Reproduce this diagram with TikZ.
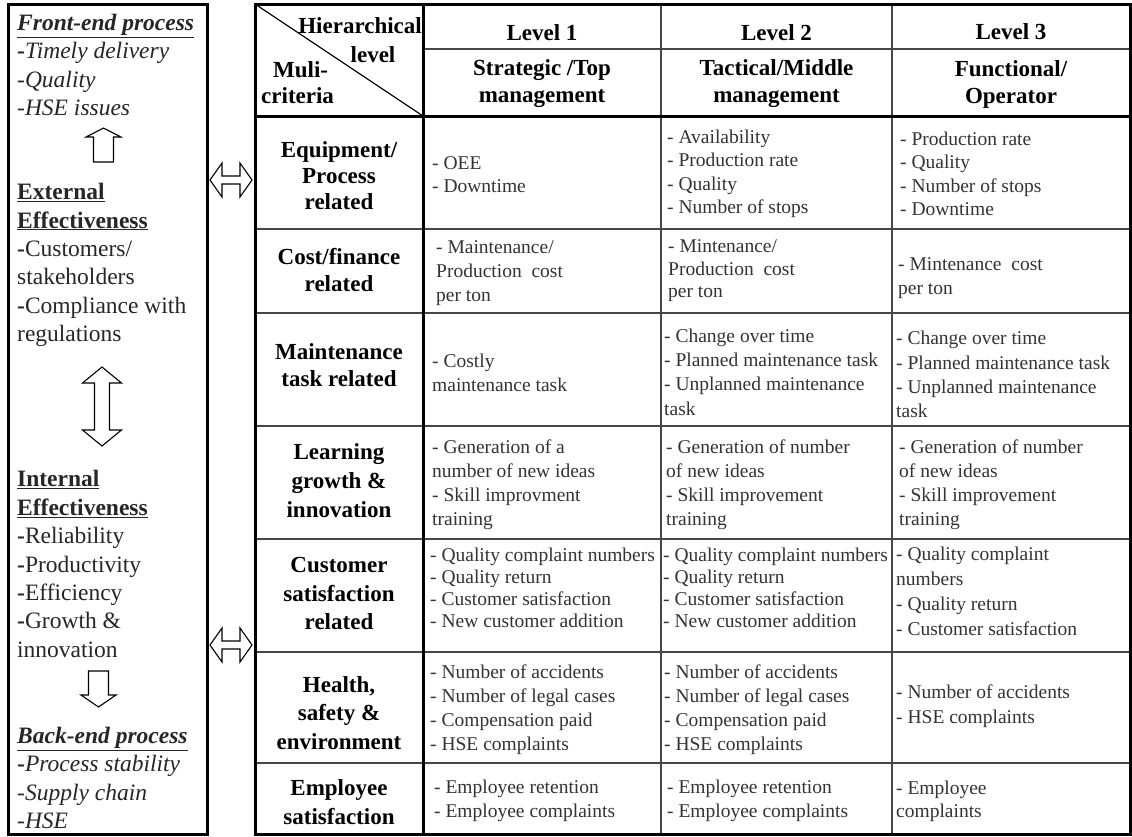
\documentclass[tikz,border=0pt]{standalone}
\usepackage{fontspec}
\setmainfont{Liberation Serif}
\begin{document}
\begin{tikzpicture}[x=1pt,y=-1pt,
  frame/.style={line width=3pt, draw=black},
  rule/.style={line width=1.8pt, draw=black!72},
  body/.style={font=\fontsize{19.5}{#1}\selectfont, text=black!80, align=left, anchor=west, inner sep=0pt},
  body/.default=23.5,
  head/.style={font=\bfseries\fontsize{23}{27}\selectfont, align=center, inner sep=0pt},
  rowlab/.style={head, font=\bfseries\fontsize{23}{#1}\selectfont},
  side/.style={font=\fontsize{23.5}{28.4}\selectfont, align=left, anchor=west, inner sep=0pt, text=black!85},
  hollow/.style={draw=black, line width=1.1pt, fill=white, line join=miter}]
\useasboundingbox (0,0) rectangle (1132,836);

% ---------- left panel ----------
\draw[frame] (8,4) rectangle (207,834);
\node[side] (fe) at (17,65) {\textbf{\textit{\underline{Front-end process}}}\\\textbf{-}\textit{Timely delivery}\\\textit{-Quality}\\\textit{-HSE issues}};
\node[side] (ext) at (17,265) {\textbf{\underline{External}}\\\textbf{\underline{Effectiveness}}\\\textbf{-}Customers/\\stakeholders\\\textbf{-}Compliance with\\regulations};
\node[side] (int) at (17,564) {\textbf{\underline{Internal}}\\\textbf{\underline{Effectiveness}}\\\textbf{-}Reliability\\\textbf{-}Productivity\\\textbf{-}Efficiency\\\textbf{-}Growth \&\\innovation};
\node[side] (be) at (17,778) {\textbf{\textit{\underline{Back-end process}}}\\\textbf{-}\textit{Process stability}\\\textit{-Supply chain}\\\textit{-HSE}};

% hollow block arrows inside the panel
\draw[hollow] (103.5,128) -- (121,137) -- (113.5,137) -- (113.5,162) -- (93.5,162) -- (93.5,137) -- (86,137) -- cycle;
\draw[hollow] (102,367) -- (121.5,383) -- (109.5,383) -- (109.5,430) -- (121.5,430) -- (102,446)
  -- (82.5,430) -- (94.5,430) -- (94.5,383) -- (82.5,383) -- cycle;
\draw[hollow] (98.5,707) -- (116,695) -- (108.5,695) -- (108.5,671) -- (88.5,671) -- (88.5,695) -- (81,695) -- cycle;

% double arrows between panel and table
\foreach \yy in {180,645}{
  \draw[hollow] (210,\yy) -- (222,\yy-17) -- (222,\yy-4) -- (240,\yy-4) -- (240,\yy-17) -- (252,\yy)
    -- (240,\yy+17) -- (240,\yy+4) -- (222,\yy+4) -- (222,\yy+17) -- cycle;
}

% ---------- table grid ----------
\foreach \yy in {229,313,426,539,652,763} \draw[rule] (255,\yy) -- (1130,\yy);
\draw[rule] (423,49) -- (1130,49);
\draw[rule] (661,4) -- (661,834);
\draw[rule] (892,4) -- (892,834);
\draw[line width=1.2pt] (255,4) -- (423,116);
\draw[frame] (255,116) -- (1130,116);
\draw[frame] (423,4) -- (423,834);
\draw[frame] (255,4) rectangle (1130,834);

% corner cell
\node[head, anchor=east] (hl) at (422,26) {Hierarchical};
\node[head] (lv) at (373,55) {level};
\node[head, anchor=west] (mu) at (273,70) {Muli-};
\node[head, anchor=west] (cr) at (261,96) {criteria};

% column headers
\node[head] (l1) at (542,33) {Level 1};
\node[head] (l2) at (776.5,33) {Level 2};
\node[head] (l3) at (1011,32) {Level 3};
\node[head] (t1) at (542,84) {Strategic /Top\\management};
\node[head] (t2) at (776.5,84) {Tactical/Middle\\management};
\node[head] (t3) at (1011,84) {Functional/\\Operator};

% row labels
\node[rowlab=26] (r1) at (339,176) {Equipment/\\Process\\related};
\node[rowlab=27] (r2) at (339,270) {Cost/finance\\related};
\node[rowlab=27] (r3) at (339,365) {Maintenance\\task related};
\node[rowlab=29] (r4) at (339,481) {Learning\\growth \&\\innovation};
\node[rowlab=28.5] (r5) at (339,593.5) {Customer\\satisfaction\\related};
\node[rowlab=28.5] (r6) at (339,713) {Health,\\safety \&\\environment};
\node[rowlab=29] (r7) at (339,802.5) {Employee\\satisfaction};

% equipment / process
\node[body=23] (c11) at (432,175) {- OEE\\- Downtime};
\node[body] (c12) at (667,174) {- Availability\\- Production rate\\- Quality\\- Number of stops};
\node[body] (c13) at (900,174) {- Production rate\\- Quality\\- Number of stops\\- Downtime};
% cost / finance
\node[body=24] (c21) at (436,273) {- Maintenance/\\Production\ \ cost\\per ton};
\node[body=22.5] (c22) at (668,271) {- Mintenance/\\Production\ \ cost\\per ton};
\node[body] (c23) at (898,278) {- Mintenance\ \ cost\\per ton};
% maintenance task
\node[body] (c31) at (432,373) {- Costly\\maintenance task};
\node[body=24.3] (c32) at (664,372) {- Change over time\\- Planned maintenance task\\- Unplanned maintenance\\task};
\node[body=24.3] (c33) at (896,374.5) {- Change over time\\- Planned maintenance task\\- Unplanned maintenance\\task};
% learning
\node[body=24] (c41) at (432,484.5) {- Generation of a\\number of new ideas\\- Skill improvment\\training};
\node[body=24] (c42) at (666,484.5) {- Generation of number\\of new ideas\\- Skill improvement\\training};
\node[body=24] (c43) at (899,484.5) {- Generation of number\\of new ideas\\- Skill improvement\\training};
% customer satisfaction
\node[body=22] (c51) at (430,587.5) {- Quality complaint numbers\\- Quality return\\- Customer satisfaction\\- New customer addition};
\node[body=22] (c52) at (663,587.5) {- Quality complaint numbers\\- Quality return\\- Customer satisfaction\\- New customer addition};
\node[body=25] (c53) at (896,591.5) {- Quality complaint\\numbers\\- Quality return\\- Customer satisfaction};
% health & safety
\node[body=24] (c61) at (430,710) {- Number of accidents\\- Number of legal cases\\- Compensation paid\\- HSE complaints};
\node[body=24] (c62) at (664,710) {- Number of accidents\\- Number of legal cases\\- Compensation paid\\- HSE complaints};
\node[body=25] (c63) at (896,706.5) {- Number of accidents\\- HSE complaints};
% employee
\node[body] (c71) at (434,801) {- Employee retention\\- Employee complaints};
\node[body] (c72) at (667,801) {- Employee retention\\- Employee complaints};
\node[body] (c73) at (896,801.5) {- Employee\\complaints};
\end{tikzpicture}
\end{document}
